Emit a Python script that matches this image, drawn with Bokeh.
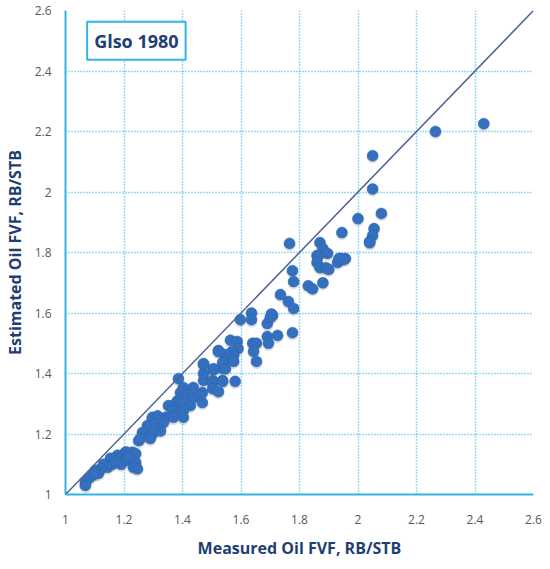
from bokeh.plotting import figure
from bokeh.models import FixedTicker, Slope, Label, ColumnDataSource
from bokeh.embed import file_html
from bokeh.resources import INLINE

measured = [2.43, 2.265, 2.05, 2.05, 2.08, 2.0, 1.945, 2.055, 2.05, 2.04,
            1.87, 1.88, 1.86, 1.94, 1.957, 1.766, 1.865, 1.896, 1.86, 1.87,
            1.89, 1.90, 1.93, 1.95, 1.935, 2.04, 1.776, 1.78, 1.83, 1.845,
            1.88, 1.735, 1.762, 1.78, 1.708, 1.725, 1.776, 1.636, 1.704, 1.598,
            1.636, 1.69, 1.70, 1.69, 1.694, 1.64, 1.653, 1.643, 1.653, 1.564,
            1.587, 1.59, 1.57, 1.575, 1.523, 1.547, 1.544, 1.575, 1.537, 1.472,
            1.506, 1.58, 1.537, 1.503, 1.472, 1.523, 1.472, 1.506, 1.537, 1.547,
            1.386, 1.472, 1.503, 1.537, 1.403, 1.437, 1.468, 1.503, 1.523, 1.393,
            1.417, 1.437, 1.383, 1.376, 1.403, 1.46, 1.468, 1.427, 1.352, 1.366,
            1.383, 1.403, 1.342, 1.369, 1.403, 1.315, 1.325, 1.297, 1.297, 1.315,
            1.28, 1.308, 1.335, 1.263, 1.297, 1.325, 1.25, 1.29, 1.205, 1.229,
            1.24, 1.24, 1.232, 1.178, 1.188, 1.154, 1.16, 1.13, 1.144, 1.12,
            1.103, 1.113, 1.092, 1.079, 1.068, 1.205, 1.068, 1.246, 1.21, 1.256,
            1.1, 1.19, 1.17, 1.215]
estimated = [2.226, 2.20, 2.12, 2.01, 1.929, 1.912, 1.866, 1.879, 1.856, 1.836,
             1.833, 1.813, 1.79, 1.78, 1.78, 1.83, 1.79, 1.797, 1.767, 1.75,
             1.75, 1.744, 1.767, 1.777, 1.78, 1.833, 1.74, 1.704, 1.69, 1.68,
             1.70, 1.661, 1.638, 1.615, 1.592, 1.526, 1.535, 1.60, 1.597, 1.578,
             1.578, 1.565, 1.585, 1.522, 1.50, 1.50, 1.50, 1.473, 1.44, 1.51,
             1.506, 1.483, 1.473, 1.46, 1.476, 1.463, 1.443, 1.44, 1.417, 1.43,
             1.413, 1.374, 1.377, 1.37, 1.377, 1.473, 1.433, 1.416, 1.436, 1.416,
             1.383, 1.40, 1.377, 1.374, 1.354, 1.354, 1.337, 1.35, 1.34, 1.337,
             1.327, 1.32, 1.31, 1.30, 1.304, 1.327, 1.304, 1.294, 1.294, 1.278,
             1.271, 1.278, 1.255, 1.255, 1.255, 1.245, 1.235, 1.25, 1.255, 1.26,
             1.228, 1.235, 1.238, 1.205, 1.20, 1.21, 1.178, 1.185, 1.14, 1.14,
             1.135, 1.106, 1.09, 1.13, 1.12, 1.12, 1.10, 1.10, 1.09, 1.085,
             1.08, 1.07, 1.063, 1.053, 1.04, 1.112, 1.03, 1.085, 1.14, 1.185,
             1.07, 1.10, 1.11, 1.125]

ticks = [1.0, 1.2, 1.4, 1.6, 1.8, 2.0, 2.2, 2.4, 2.6]
tick_labels = ["1", "1.2", "1.4", "1.6", "1.8", "2", "2.2", "2.4", "2.6"]

x_title = "Measured Oil FVF, RB/STB"
y_title = "Estimated Oil FVF, RB/STB"
box_title = "Glso 1980"

GRID = "#33b4e6"
NAVY = "#1f3f73"
DOT = "#3470bd"

p = figure(width=548, height=567, x_range=(1, 2.6), y_range=(1, 2.6),
           output_backend="svg", toolbar_location=None,
           min_border_left=65, min_border_right=15, min_border_top=10, min_border_bottom=73)
p.outline_line_color = None
p.background_fill_color = "white"

overrides = {t: l for t, l in zip(ticks, tick_labels)}
for ax in (p.xaxis[0], p.yaxis[0]):
    ax.ticker = FixedTicker(ticks=ticks)
    ax.major_label_overrides = overrides
    ax.major_tick_line_color = None
    ax.minor_tick_line_color = None
    ax.axis_line_color = GRID
    ax.axis_line_width = 2
    ax.major_label_text_color = "#595959"
    ax.major_label_text_font = "Open Sans"
    ax.major_label_text_font_size = "12px"
    ax.axis_label_text_font = "Open Sans"
    ax.axis_label_text_font_style = "bold"
    ax.axis_label_text_font_size = "16px"
    ax.axis_label_text_color = NAVY

p.xaxis.axis_label = x_title
p.yaxis.axis_label = y_title
p.xaxis.major_label_standoff = 14
p.xaxis.axis_label_standoff = 10
p.yaxis.major_label_standoff = 8
p.yaxis.axis_label_standoff = 6

for g in (p.xgrid[0], p.ygrid[0]):
    g.ticker = FixedTicker(ticks=ticks)
    g.grid_line_color = GRID
    g.grid_line_dash = "1 2"
    g.grid_line_width = 1.5

p.add_layout(Slope(gradient=1, y_intercept=0, line_color="#4d6291", line_width=1.5))

src = ColumnDataSource(dict(x=measured, y=estimated,
                            ys=[v - 0.006 for v in estimated]))
p.scatter("x", "ys", source=src, size=12, fill_color="#000000", fill_alpha=0.12,
          line_color=None)
p.scatter("x", "y", source=src, size=11, fill_color=DOT, line_color="#2b63ad",
          line_width=0.5)

lab = Label(x=1.074, y=2.5, text=box_title,
            text_font="Open Sans", text_font_style="bold", text_font_size="18px",
            text_color=NAVY, text_baseline="middle", text_align="left",
            border_line_color=GRID, border_line_width=2,
            background_fill_color="white", padding=7)
p.add_layout(lab)

open("out.html", "w").write(file_html(p, INLINE))
